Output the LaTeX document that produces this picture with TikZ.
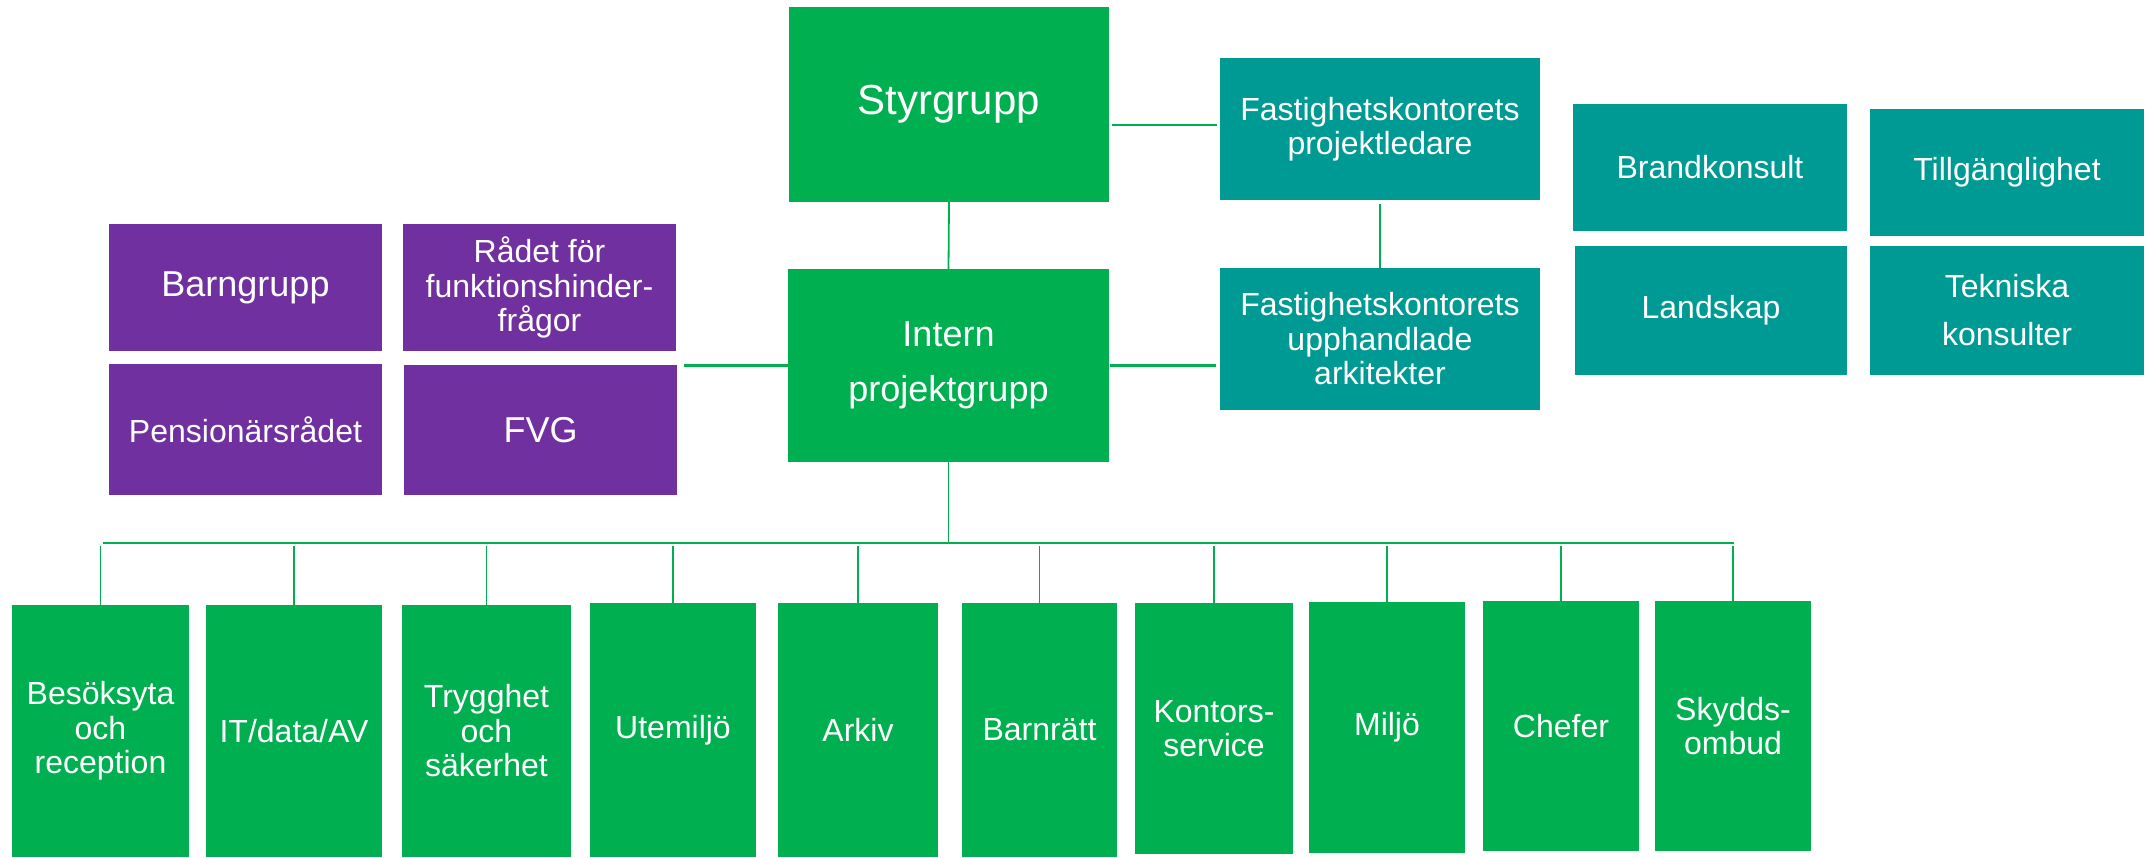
\documentclass[tikz,border=0pt]{standalone}
\usepackage{fontspec}
\setmainfont{Liberation Sans}
\definecolor{boxgreen}{HTML}{00B050}
\definecolor{boxpurple}{HTML}{7030A0}
\definecolor{boxteal}{HTML}{009A94}
\definecolor{linegreen}{HTML}{00B050}
% #1 style, #2 name, #3 x1, #4 y1, #5 x2, #6 y2 (px), #7 text
\newcommand\BX[7]{%
  \pgfmathsetmacro\bxcx{(#3+#5)/2}\pgfmathsetmacro\bxcy{(#4+#6)/2}%
  \pgfmathsetmacro\bxw{(#5-#3)*0.5}\pgfmathsetmacro\bxh{(#6-#4)*0.5}%
  \node[#1, minimum width=\bxw pt, minimum height=\bxh pt] (#2) at (\bxcx,\bxcy) {#7};}
\begin{document}
\begin{tikzpicture}[x=0.5pt,y=-0.5pt,
  base/.style={inner sep=0pt, outer sep=0pt, text=white, align=center},
  gbox/.style={base, fill=boxgreen},
  pbox/.style={base, fill=boxpurple},
  tbox/.style={base, fill=boxteal},
  fsmall/.style={font=\fontsize{16}{17.25}\selectfont},
  fmid/.style={font=\fontsize{18}{27.5}\selectfont},
  fbig/.style={font=\fontsize{21}{25}\selectfont},
  conn/.style={draw=linegreen, line width=1.1pt},
  drop/.style={draw=linegreen, line width=0.9pt},
  busline/.style={draw=linegreen, line width=1.4pt}]
\useasboundingbox (0,0) rectangle (2152,857);
% top
\BX{gbox, fbig}{styr}{789}{7}{1109}{202}{Styrgrupp}
\BX{gbox, fmid}{intern}{788}{269}{1109}{462}{Intern\\projektgrupp}
% purple
\BX{pbox, fmid}{barn}{109}{224}{382}{351}{Barngrupp}
\BX{pbox, fsmall}{radet}{403}{224}{676}{351}{Rådet för\\funktionshinder-\\frågor}
\BX{pbox, fsmall}{pens}{109}{364}{382}{495}{Pensionärsrådet}
\BX{pbox, fmid}{fvg}{404}{365}{677}{495}{FVG}
% teal
\BX{tbox, fsmall}{fpl}{1220}{58}{1540}{200}{Fastighetskontorets\\projektledare}
\BX{tbox, fsmall}{fup}{1220}{268}{1540}{410}{Fastighetskontorets\\upphandlade\\arkitekter}
\BX{tbox, fsmall}{brand}{1573}{104}{1847}{231}{Brandkonsult}
\BX{tbox, fsmall}{till}{1870}{109}{2144}{236}{Tillgänglighet}
\BX{tbox, fsmall}{land}{1575}{246}{1847}{375}{Landskap}
\BX{tbox, font=\fontsize{16}{24}\selectfont}{tek}{1870}{246}{2144}{375}{Tekniska\\konsulter}
% bottom
\BX{gbox, fsmall}{b1}{12}{605}{189}{857}{Besöksyta\\och\\reception}
\BX{gbox, fsmall}{b2}{206}{605}{382}{857}{IT/data/AV}
\BX{gbox, fsmall}{b3}{402}{605}{571}{857}{Trygghet\\och\\säkerhet}
\BX{gbox, fsmall}{b4}{590}{603}{756}{857}{Utemiljö}
\BX{gbox, fsmall}{b5}{778}{603}{938}{857}{Arkiv}
\BX{gbox, fsmall}{b6}{962}{603}{1117}{857}{Barnrätt}
\BX{gbox, fsmall}{b7}{1135}{603}{1293}{854}{Kontors-\\service}
\BX{gbox, fsmall}{b8}{1309}{602}{1465}{853}{Miljö}
\BX{gbox, fsmall}{b9}{1483}{601}{1639}{851}{Chefer}
\BX{gbox, fsmall}{b10}{1655}{601}{1811}{851}{Skydds-\\ombud}
% connectors
\draw[drop] (styr.south) -- (intern.north);
\draw[conn, shorten <=1.5pt, shorten >=1.5pt] ([yshift=2pt]fpl.west) -- ([yshift=2pt]fpl.west -| styr.east);
\draw[drop, shorten <=2pt] (fpl.south) -- (fup.north);
\draw[conn, shorten <=0.5pt, shorten >=2pt] (intern.east) -- (intern.east -| fup.west);
\draw[conn, shorten >=3.5pt] (intern.west) -- (intern.west -| fvg.east);
\coordinate (busL) at (103,543);
\coordinate (busR) at (1734,543);
\draw[busline] (busL) -- (busR);
\draw[drop] (intern.south) -- (intern.south |- busL);
\foreach \b in {b1,b2,b3,b4,b5,b6,b7,b8,b9,b10}{
  \draw[drop, shorten >=1.5pt] (\b.north) -- (\b.north |- busL);
}
\end{tikzpicture}
\end{document}
